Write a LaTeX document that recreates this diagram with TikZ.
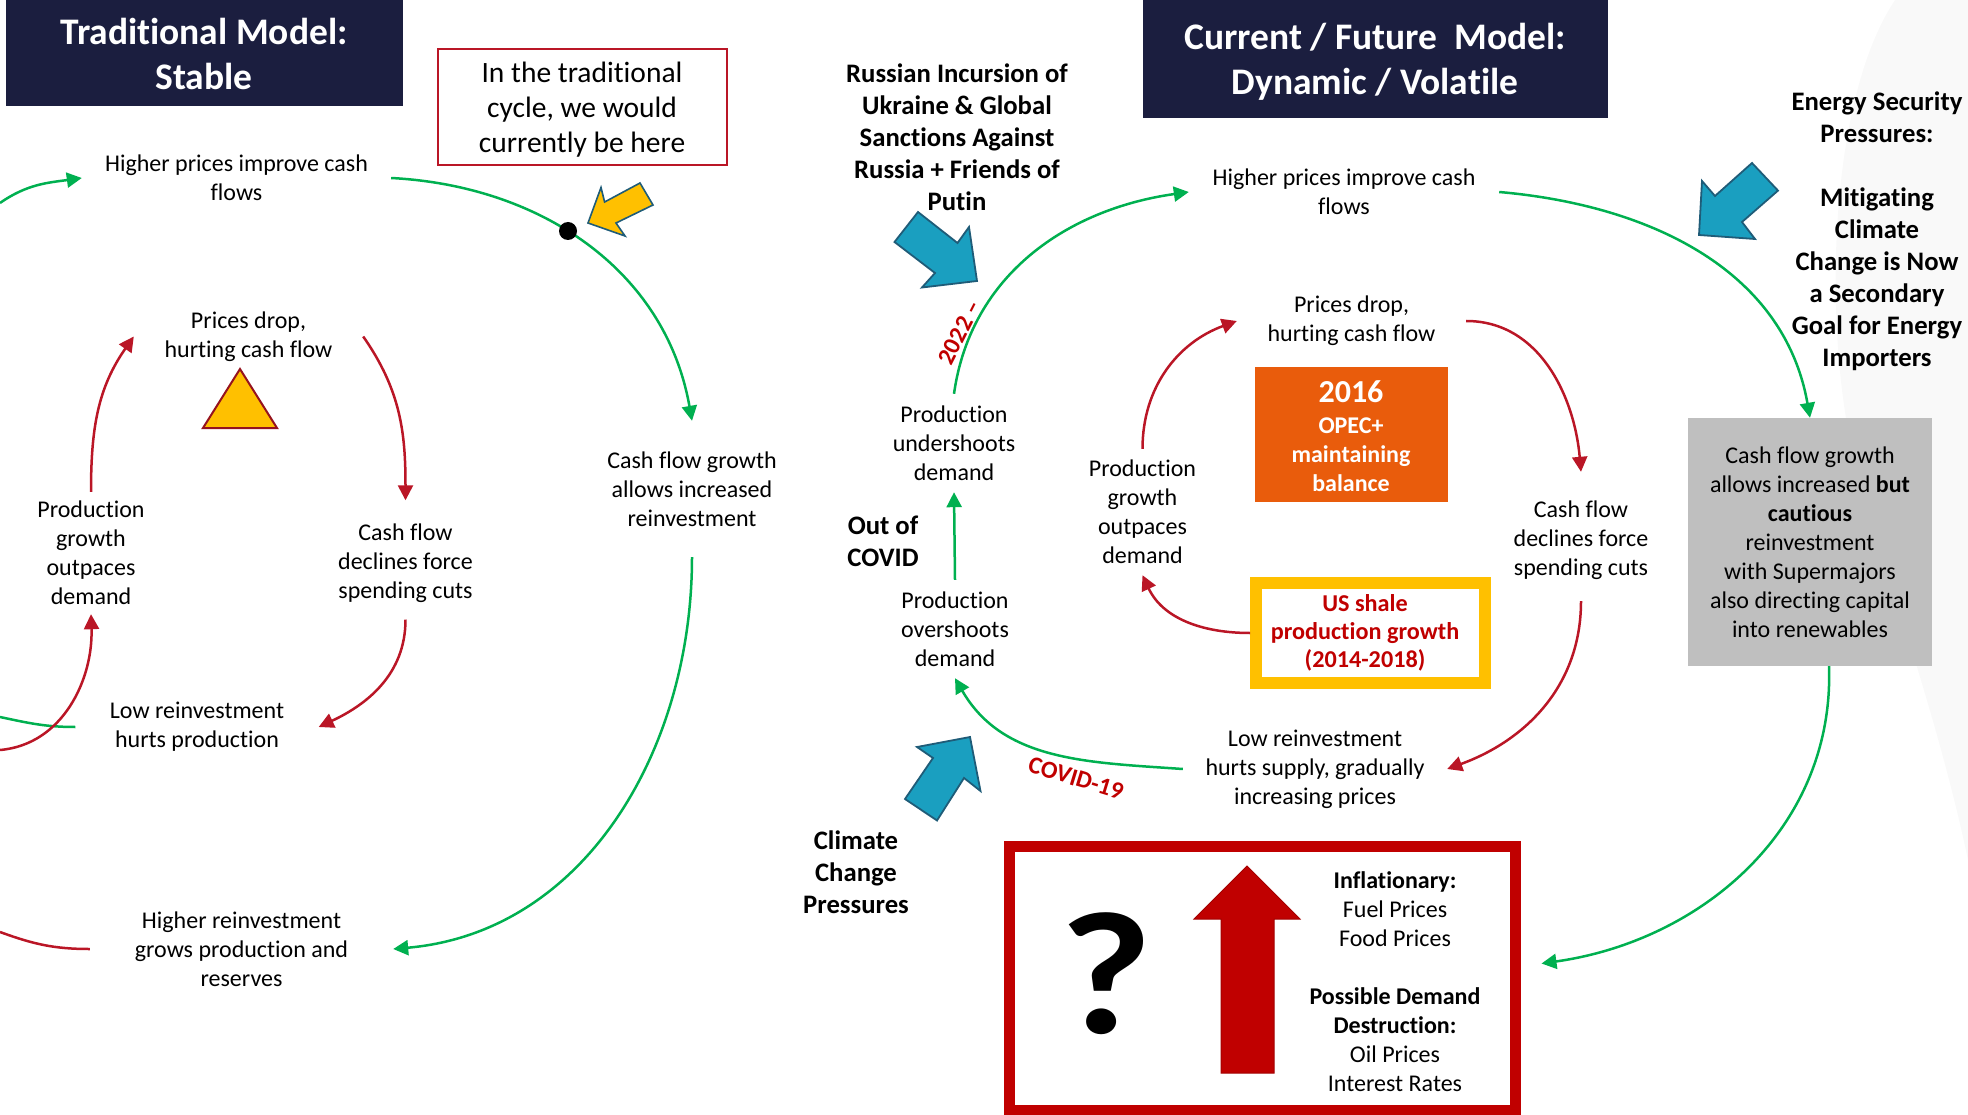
\documentclass[tikz,border=0pt]{standalone}
\usepackage{fontspec}
\setmainfont[Ligatures=NoCommon]{Carlito}
\usetikzlibrary{arrows.meta}
\definecolor{navy}{HTML}{1B1E3F}
\definecolor{grn}{HTML}{00B050}
\definecolor{redline}{HTML}{BA1626}
\definecolor{redtext}{HTML}{C00000}
\definecolor{blueblock}{HTML}{1A9FC0}
\definecolor{blueedge}{HTML}{1F5C78}
\definecolor{gold}{HTML}{FFC000}
\definecolor{burnt}{HTML}{E95C0C}
\tikzset{
    txt/.style={align=center,inner sep=0pt,font=\fontsize{24}{29}\selectfont},
    boldtxt/.style={align=center,inner sep=0pt,font=\fontsize{26.7}{32}\selectfont\bfseries},
    titlebox/.style={fill=navy,inner sep=0pt},
    titletxt/.style={text=white,align=center,inner sep=0pt,font=\fontsize{37.5}{45}\selectfont\bfseries},
    greenarrow/.style={draw=grn,line width=2.5pt,-{Triangle[length=15pt,width=15pt]}},
    redarrow/.style={draw=redline,line width=2.5pt,-{Triangle[length=15pt,width=15pt]}},
    blueblockarrow/.style={draw=blueedge,line width=1.8pt,fill=blueblock,line join=miter},
    stamp/.style={text=redtext,font=\fontsize{24.5}{29}\selectfont\bfseries,inner sep=0pt}
}
\begin{document}
\begin{tikzpicture}[x=1pt,y=-1pt]
    \useasboundingbox (0,0) rectangle (1968,1115);
    % faint background
    \fill[black!2.5] (1895,0) .. controls (1835,90) and (1825,280) .. (1845,412) .. controls (1860,510) and (1930,680) .. (1968,860) -- (1968,0) -- cycle;

    % traditional model
    \node[titlebox,minimum width=397pt,minimum height=106pt] (titleL) at (204.5,53) {};
    \node[titletxt] (titleLtxt) at (204,54) {Traditional Model:\\Stable};
    \node[draw=redline,line width=2.5pt,inner sep=0pt,minimum width=289pt,minimum height=116pt] (hereL) at (582.5,107) {};
    \node[align=center,inner sep=0pt,font=\fontsize{29.5}{35}\selectfont] (hereLtxt) at (582,110) {In the traditional\\cycle, we would\\currently be here};

    \node[txt,minimum width=309pt] (hpL) at (236.5,178) {Higher prices improve cash\\flows};
    \node[txt,minimum height=136pt] (cfgL) at (692,489) {Cash flow growth\\allows increased\\reinvestment};
    \node[txt,minimum height=126pt] (cfdL) at (405.5,563.5) {Cash flow\\declines force\\spending cuts};
    \node[txt,minimum width=243pt] (lrL) at (197,727) {Low reinvestment\\hurts production};
    \node[txt,minimum width=303pt] (hrL) at (241.5,949) {Higher reinvestment\\grows production and\\reserves};
    \node[txt,minimum width=229pt] (pdL) at (248.5,336.5) {Prices drop,\\hurting cash flow};
    \node[txt,minimum height=122pt] (pgL) at (91,553) {Production\\growth\\outpaces\\demand};

    \coordinate (offtopL) at (0,203);
    \coordinate (offmidL) at (0,717);
    \coordinate (offredL) at (0,750);
    \coordinate (offlowL) at (0,932);

    \draw[greenarrow] (offtopL) to[out=35,in=188] (hpL.west);
    \draw[greenarrow] (hpL.east) to[out=-3,in=100] (cfgL.north);
    \draw[greenarrow] (cfgL.south) to[out=-90,in=5] (hrL.east);
    \draw[draw=grn,line width=2.5pt] (offmidL) to[out=-12,in=180] (lrL.west);
    \draw[redarrow] (pdL.east) to[out=-55,in=90] (cfdL.north);
    \draw[redarrow] ([yshift=7pt]cfdL.south) to[out=-90,in=25] (lrL.east);
    \draw[redarrow] (offredL) to[out=5,in=-88] (pgL.south);
    \draw[redarrow] (pgL.north) to[out=90,in=-125] (pdL.west);
    \draw[draw=redline,line width=2.5pt] (offlowL) to[out=-20,in=180] (hrL.west);

    \node[circle,fill=black,inner sep=0pt,minimum size=18pt] (dotL) at (568,231) {};
    \draw[draw=blueedge,line width=1.6pt,fill=gold,line join=miter] (588,223) -- (601,187.5) -- (604.6,202) -- (640,183) -- (653,205) -- (616,223) -- (625,236) -- cycle;
    \draw[draw=redline!80!black,line width=2pt,fill=gold] (240,369) -- (277,428) -- (203,428) -- cycle;

    % current and future model
    \node[titlebox,minimum width=465pt,minimum height=118pt] (titleR) at (1375.5,59) {};
    \node[titletxt] (titleRtxt) at (1375,62) {Current / Future\ \ Model:\\Dynamic / Volatile};
    \node[boldtxt] (russia) at (957,137.5) {Russian Incursion of\\Ukraine \& Global\\Sanctions Against\\Russia + Friends of\\Putin};
    \node[boldtxt] (security) at (1877,231) {Energy Security\\Pressures:\\[32pt]Mitigating\\Climate\\Change is Now\\a Secondary\\Goal for Energy\\Importers};
    \node[boldtxt] (climate) at (856,872) {Climate\\Change\\Pressures};
    \node[boldtxt] (covidout) at (883,541) {Out of\\COVID};

    \node[txt,minimum width=310pt] (hpR) at (1344,192) {Higher prices improve cash\\flows};
    \node[txt,minimum height=98pt] (puR) at (954,443) {Production\\undershoots\\demand};
    \node[txt,minimum height=98pt] (poR) at (955,629) {Production\\overshoots\\demand};
    \node[txt,minimum width=229pt] (pdR) at (1351.5,321) {Prices drop,\\hurting cash flow};
    \node[txt,minimum height=126pt] (pgR) at (1142.5,512) {Production\\growth\\outpaces\\demand};
    \node[txt,minimum height=137pt] (cfdR) at (1581,540.5) {Cash flow\\declines force\\spending cuts};
    \node[txt,minimum width=264pt] (lrR) at (1315,769) {Low reinvestment\\hurts supply, gradually\\increasing prices};

    \node[fill=black!25,txt,minimum width=244pt,minimum height=248pt] (cfgR) at (1810,542) {Cash flow growth\\allows increased \textbf{but}\\\textbf{cautious}\\reinvestment\\with Supermajors\\also directing capital\\into renewables};
    \node[minimum width=193pt,minimum height=135pt,fill=burnt,inner sep=0pt] (opec) at (1351.5,434.5) {};
    \node[draw=gold,line width=12pt,minimum width=229pt,minimum height=100pt,inner sep=0pt] (shale) at (1370.5,633) {};
    \node[text=redtext,inner sep=0pt,align=center,font=\fontsize{24.2}{28}\selectfont\bfseries] (shaletxt) at (1365,633) {US shale\\production growth\\(2014-2018)};
    \node[text=white,inner sep=0pt,align=center,font=\fontsize{24}{29}\selectfont\bfseries] (opectxt) at (1351,436.5) {{\fontsize{32}{38}\selectfont 2016}\\[2pt]OPEC+\\maintaining\\balance};
    \node[draw=redtext,line width=11pt,inner sep=0pt,minimum width=506pt,minimum height=264pt] (demand) at (1262,978.5) {};

    \draw[greenarrow] (hpR.east) to[out=-5,in=100] (cfgR.north);
    \draw[greenarrow] ([xshift=19pt]cfgR.south) to[out=-88,in=8] ([shift={(21,-15)}]demand.east);
    \draw[greenarrow] (puR.north) to[out=82,in=188] (hpR.west);
    \draw[greenarrow] (poR.north) -- (puR.south);
    \draw[greenarrow] (lrR.west) to[out=176,in=-60] (poR.south);
    \draw[redarrow] (pgR.north) to[out=90,in=200] (pdR.west);
    \draw[redarrow] (pdR.east) to[out=0,in=95] (cfdR.north);
    \draw[redarrow] ([yshift=8pt]cfdR.south) to[out=-90,in=20] (lrR.east);
    \draw[redarrow] (shale.west) to[out=180,in=-65] (pgR.south);

    \node[stamp,rotate=63] (since) at (959.5,332.5) {2022 –};
    \node[stamp,rotate=-17] (covid) at (1076,778) {COVID-19};

    \draw[blueblockarrow] (918,212) -- (957.5,243) -- (969,227) -- (977,281) -- (922,287.5) -- (935,273) -- (894.5,242) -- cycle;
    \draw[blueblockarrow] (1752,163) -- (1778,190.6) -- (1742,222) -- (1755,239) -- (1699,235) -- (1702,181) -- (1715,196) -- cycle;
    \draw[blueblockarrow] (970,737) -- (980.5,791) -- (964,778) -- (937,820.5) -- (905,799) -- (933,758) -- (917,747) -- cycle;

    % inflation box
    \node[inner sep=0pt,font=\fontsize{175}{175}\selectfont\bfseries,xscale=1.15,transform shape] (query) at (1106.5,974) {?};
    \draw[draw=redtext!85!black,line width=1pt,fill=redtext] (1247,866) -- (1300,919) -- (1274,919) -- (1274,1073) -- (1221,1073) -- (1221,919) -- (1194,919) -- cycle;
    \node[txt] (prices) at (1395,982) {\textbf{Inflationary:}\\Fuel Prices\\Food Prices\\[29pt]\textbf{Possible Demand}\\\textbf{Destruction:}\\Oil Prices\\Interest Rates};
\end{tikzpicture}
\end{document}
